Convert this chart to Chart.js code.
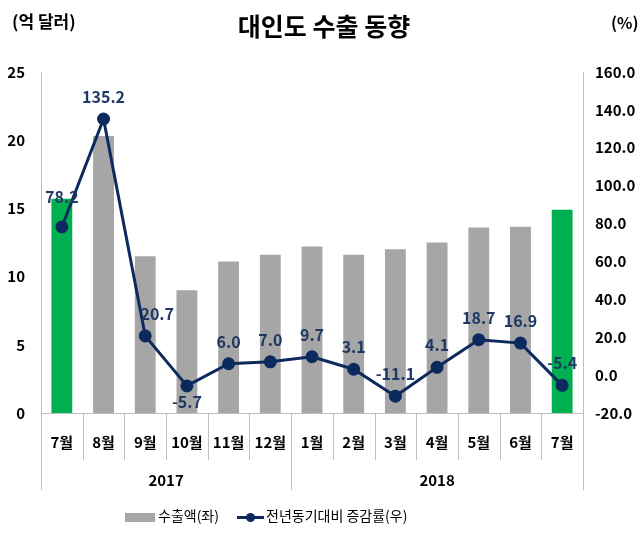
<!DOCTYPE html>
<html><head><meta charset="utf-8">
<script src="https://cdn.jsdelivr.net/npm/chart.js@4"></script>
<style>
html,body{margin:0;padding:0;background:#fff;}
#wrap{position:relative;width:643px;height:534px;font-family:"Noto Sans CJK KR","Noto Sans",sans-serif;}
canvas{position:absolute;left:0;top:0;}
.t{position:absolute;white-space:nowrap;color:#000;}
</style></head>
<body>
<div id="wrap">
<canvas id="c" width="643" height="534"></canvas>
<div class="t" style="left:12px;top:8px;font-size:17px;font-weight:bold;">(억 달러)</div>
<div class="t" style="left:0;width:648px;text-align:center;top:7px;font-size:25px;font-weight:bold;">대인도 수출 동향</div>
<div class="t" style="left:611px;top:10px;font-size:16px;font-weight:bold;">(%)</div>
<div class="t" style="left:125px;top:505px;font-size:14px;line-height:20px;"><span style="display:inline-block;width:30px;height:9px;background:#A6A6A6;vertical-align:middle;margin-right:3px;"></span>수출액(좌)</div>
<div class="t" style="left:237px;top:505px;font-size:14px;line-height:20px;"><span style="display:inline-block;position:relative;width:27px;height:3px;background:#0D2A5E;vertical-align:middle;margin-right:2px;"><span style="position:absolute;left:9px;top:-3px;width:9px;height:9px;border-radius:50%;background:#0D2A5E;"></span></span>전년동기대비 증감률(우)</div>
</div>
<script>
const months = ['7월','8월','9월','10월','11월','12월','1월','2월','3월','4월','5월','6월','7월'];
const years = ['2017','2018'];
const yearSpans = [6, 7];
const exportValues = [15.7, 20.3, 11.5, 9.0, 11.1, 11.6, 12.2, 11.6, 12.0, 12.5, 13.6, 13.65, 14.9];
const growthRates = [78.2, 135.2, 20.7, -5.7, 6.0, 7.0, 9.7, 3.1, -11.1, 4.1, 18.7, 16.9, -5.4];
const leftTicks = [0, 5, 10, 15, 20, 25];
const rightTicks = [-20, 0, 20, 40, 60, 80, 100, 120, 140, 160];

const GRAY = '#A6A6A6', GREEN = '#00B050', NAVY = '#0D2A5E';
const barColors = exportValues.map((v, i) => (i === 0 || i === exportValues.length - 1) ? GREEN : GRAY);
const FONT = '"Noto Sans CJK KR","Noto Sans",sans-serif';

const labelPlugin = {
  id: 'extras',
  afterDatasetsDraw(chart) {
    const ctx = chart.ctx;
    const meta = chart.getDatasetMeta(1);
    ctx.save();
    ctx.font = 'bold 16px ' + FONT;
    ctx.fillStyle = '#1F3864';
    ctx.textAlign = 'center';
    ctx.textBaseline = 'middle';
    meta.data.forEach((pt, i) => {
      const v = growthRates[i];
      let dy = -22, dx = 0;
      if (i === 3) dy = 16;
      if (i === 0) { dy = -30; }
      if (i === 2) { dx = 12; }
      ctx.fillText(v.toFixed(1), pt.x + dx, pt.y + dy);
    });
    ctx.restore();
  },
  afterDraw(chart) {
    const ctx = chart.ctx;
    const area = chart.chartArea;
    const n = months.length;
    const w = (area.right - area.left) / n;
    ctx.save();
    ctx.strokeStyle = '#BFBFBF';
    ctx.lineWidth = 1;
    const bounds = [0];
    let acc = 0;
    yearSpans.forEach(s => { acc += s; bounds.push(acc); });
    for (let i = 0; i <= n; i++) {
      const x = Math.round(area.left + i * w) + 0.5;
      const isYear = bounds.includes(i);
      ctx.beginPath();
      ctx.moveTo(x, area.bottom);
      ctx.lineTo(x, isYear ? area.bottom + 77 : area.bottom + 47);
      ctx.stroke();
    }
    ctx.font = 'bold 15px ' + FONT;
    ctx.fillStyle = '#000';
    ctx.textAlign = 'center';
    ctx.textBaseline = 'middle';
    for (let k = 0; k < years.length; k++) {
      const cx = area.left + (bounds[k] + bounds[k + 1]) / 2 * w;
      ctx.fillText(years[k], cx, area.bottom + 67);
    }
    ctx.restore();
  }
};

new Chart(document.getElementById('c'), {
  type: 'bar',
  data: {
    labels: months,
    datasets: [
      { type: 'bar', label: '수출액(좌)', data: exportValues, backgroundColor: barColors,
        yAxisID: 'y', barPercentage: 0.5, categoryPercentage: 1.0, order: 2 },
      { type: 'line', label: '전년동기대비 증감률(우)', data: growthRates, yAxisID: 'y1',
        borderColor: NAVY, backgroundColor: NAVY, borderWidth: 3, pointRadius: 5,
        pointBackgroundColor: NAVY, pointBorderColor: NAVY, tension: 0, order: 1 }
    ]
  },
  options: {
    responsive: false,
    animation: false,
    devicePixelRatio: 1,
    layout: { padding: { top: 72, bottom: 41, left: 0, right: 0 } },
    plugins: { legend: { display: false }, tooltip: { enabled: false }, title: { display: false } },
    scales: {
      x: {
        grid: { display: false, drawTicks: false },
        border: { display: true, color: '#BFBFBF' },
        ticks: { font: { size: 15, weight: 'bold', family: FONT }, color: '#000', padding: 20, maxRotation: 0, autoSkip: false },
        afterFit(s) { s.height = 80; }
      },
      y: {
        position: 'left', min: 0, max: 25,
        afterBuildTicks(s) { s.ticks = leftTicks.map(v => ({ value: v })); },
        grid: { display: false, drawTicks: false },
        border: { display: true, color: '#BFBFBF' },
        ticks: { font: { size: 15, weight: 'bold', family: FONT }, color: '#000', padding: 16 },
        afterFit(s) { s.width = 41; }
      },
      y1: {
        position: 'right', min: -20, max: 160,
        afterBuildTicks(s) { s.ticks = rightTicks.map(v => ({ value: v })); },
        grid: { display: false, drawTicks: false },
        border: { display: true, color: '#BFBFBF' },
        ticks: { font: { size: 15, weight: 'bold', family: FONT }, color: '#000', padding: 12,
          callback: v => Number(v).toFixed(1) },
        afterFit(s) { s.width = 60; }
      }
    }
  },
  plugins: [labelPlugin]
});
</script>
</body></html>
